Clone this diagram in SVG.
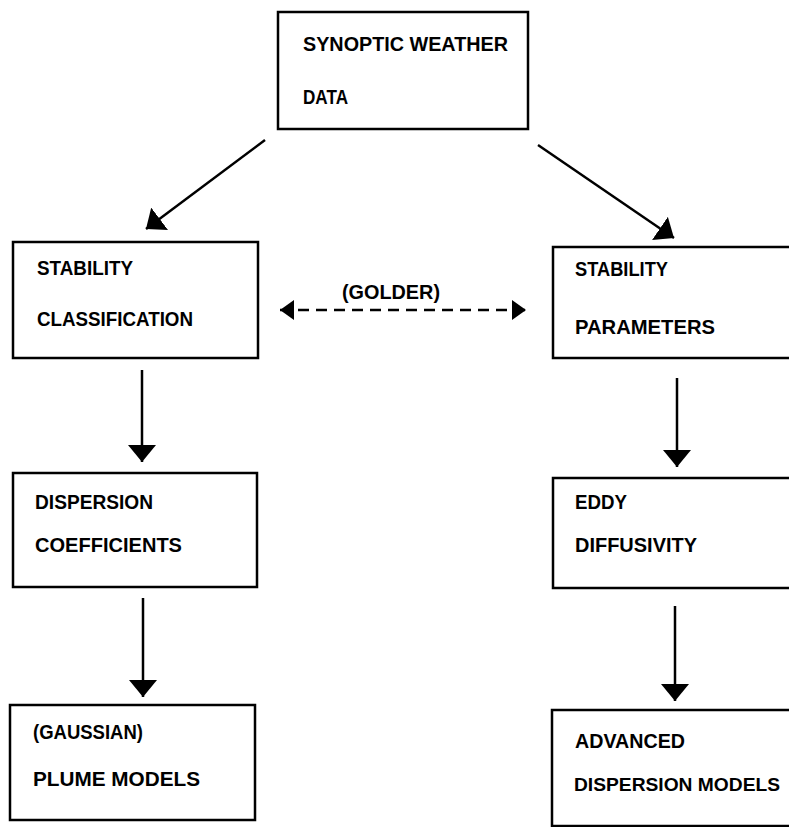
<svg xmlns="http://www.w3.org/2000/svg" width="789" height="827" viewBox="0 0 789 827">
<defs>
<style>
.box{fill:#fff;stroke:#000;stroke-width:2.5}
.t{font-family:"Liberation Sans",Arial,sans-serif;font-weight:bold;font-size:21px;fill:#000}
.c{stroke:#000;stroke-width:2.5;fill:none}
.d{stroke:#000;stroke-width:2.5;fill:none;stroke-dasharray:11 7}
</style>
<marker id="ah" viewBox="0 0 17 28" refX="17" refY="14" markerWidth="17" markerHeight="28" markerUnits="userSpaceOnUse" orient="auto">
<path d="M0,0 L17,14 L0,28 z" fill="#000"/>
</marker>
<marker id="ah2" viewBox="0 0 14 20" refX="14" refY="10" markerWidth="14" markerHeight="20" markerUnits="userSpaceOnUse" orient="auto-start-reverse">
<path d="M0,0 L14,10 L0,20 z" fill="#000"/>
</marker>
</defs>
<rect width="789" height="827" fill="#fff"/>
<g id="connectors">
<line class="c" x1="265" y1="140" x2="146" y2="229" marker-end="url(#ah)"/>
<line class="c" x1="538" y1="145" x2="674" y2="238" marker-end="url(#ah)"/>
<line class="d" x1="280" y1="310" x2="526" y2="310" marker-start="url(#ah2)" marker-end="url(#ah2)"/>
<line class="c" x1="142" y1="370" x2="142" y2="462" marker-end="url(#ah)"/>
<line class="c" x1="143" y1="598" x2="143" y2="697" marker-end="url(#ah)"/>
<line class="c" x1="677" y1="378" x2="677" y2="467" marker-end="url(#ah)"/>
<line class="c" x1="675" y1="606" x2="675" y2="701" marker-end="url(#ah)"/>
<text class="t" x="342" y="299" textLength="98" lengthAdjust="spacingAndGlyphs">(GOLDER)</text>
</g>
<g id="synoptic">
<rect class="box" x="278" y="12" width="250" height="117"/>
<text class="t" x="303" y="51" textLength="205" lengthAdjust="spacingAndGlyphs">SYNOPTIC WEATHER</text>
<text class="t" x="303" y="104" textLength="45" lengthAdjust="spacingAndGlyphs">DATA</text>
</g>
<g id="stability-classification">
<rect class="box" x="13" y="242" width="245" height="116"/>
<text class="t" x="37" y="275" textLength="96" lengthAdjust="spacingAndGlyphs">STABILITY</text>
<text class="t" x="37" y="326" textLength="156" lengthAdjust="spacingAndGlyphs">CLASSIFICATION</text>
</g>
<g id="stability-parameters">
<rect class="box" x="553" y="247" width="250" height="111"/>
<text class="t" x="575" y="276" textLength="93" lengthAdjust="spacingAndGlyphs">STABILITY</text>
<text class="t" x="575" y="334" textLength="140" lengthAdjust="spacingAndGlyphs">PARAMETERS</text>
</g>
<g id="dispersion-coefficients">
<rect class="box" x="13" y="473" width="244" height="114"/>
<text class="t" x="35" y="509" textLength="118" lengthAdjust="spacingAndGlyphs">DISPERSION</text>
<text class="t" x="35" y="552" textLength="147" lengthAdjust="spacingAndGlyphs">COEFFICIENTS</text>
</g>
<g id="eddy-diffusivity">
<rect class="box" x="553" y="478" width="250" height="110"/>
<text class="t" x="575" y="509" textLength="52" lengthAdjust="spacingAndGlyphs">EDDY</text>
<text class="t" x="575" y="552" textLength="122" lengthAdjust="spacingAndGlyphs">DIFFUSIVITY</text>
</g>
<g id="plume-models">
<rect class="box" x="10" y="705" width="245" height="115"/>
<text class="t" x="33" y="739" textLength="110" lengthAdjust="spacingAndGlyphs">(GAUSSIAN)</text>
<text class="t" x="33" y="786" textLength="167" lengthAdjust="spacingAndGlyphs">PLUME MODELS</text>
</g>
<g id="advanced-models">
<rect class="box" x="552" y="710" width="250" height="116"/>
<text class="t" x="575" y="748" textLength="110" lengthAdjust="spacingAndGlyphs">ADVANCED</text>
<text class="t" x="574" y="791" style="font-size:19px" textLength="206" lengthAdjust="spacingAndGlyphs">DISPERSION MODELS</text>
</g>
</svg>
